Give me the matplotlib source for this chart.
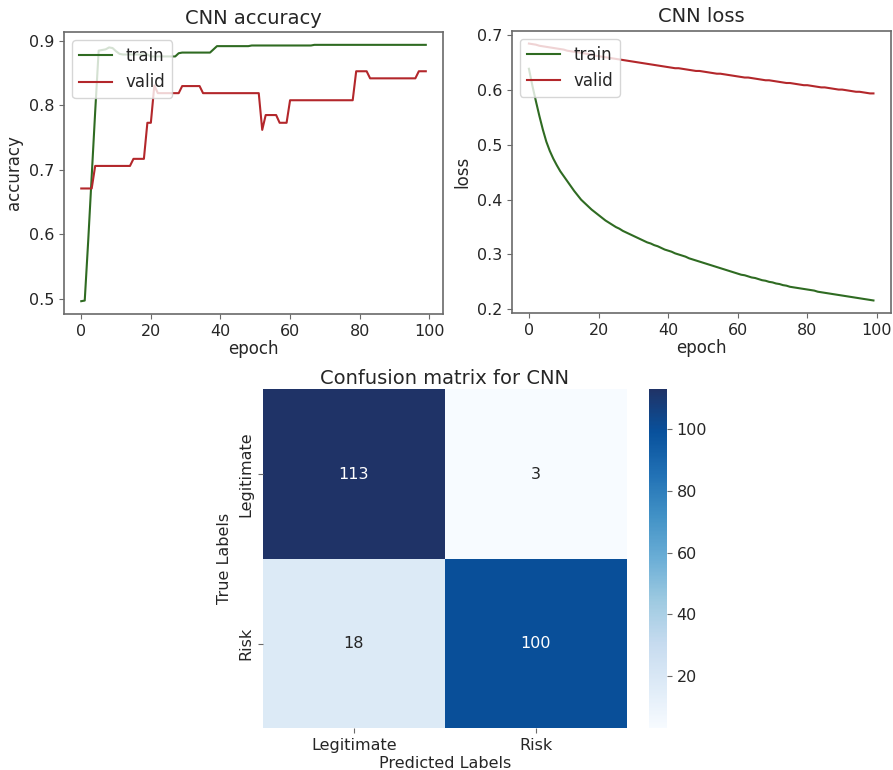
import matplotlib
matplotlib.use("Agg")
import matplotlib.pyplot as plt
from matplotlib.colors import LinearSegmentedColormap
import numpy as np
import seaborn as sns

# training history of the CNN (one value per epoch)
train_acc = [
    0.496, 0.497, 0.590, 0.690, 0.790, 0.885, 0.886, 0.887, 0.890, 0.889,
    0.884, 0.880, 0.879, 0.879, 0.879, 0.879, 0.879, 0.879, 0.879, 0.879,
    0.876, 0.876, 0.876, 0.876, 0.876, 0.876, 0.876, 0.876, 0.881, 0.882,
    0.882, 0.882, 0.882, 0.882, 0.882, 0.882, 0.882, 0.882, 0.887, 0.892,
    0.892, 0.892, 0.892, 0.892, 0.892, 0.892, 0.892, 0.892, 0.892, 0.893,
    0.893, 0.893, 0.893, 0.893, 0.893, 0.893, 0.893, 0.893, 0.893, 0.893,
    0.893, 0.893, 0.893, 0.893, 0.893, 0.893, 0.893, 0.894, 0.894, 0.894,
    0.894, 0.894, 0.894, 0.894, 0.894, 0.894, 0.894, 0.894, 0.894, 0.894,
    0.894, 0.894, 0.894, 0.894, 0.894, 0.894, 0.894, 0.894, 0.894, 0.894,
    0.894, 0.894, 0.894, 0.894, 0.894, 0.894, 0.894, 0.894, 0.894, 0.894,
]
valid_acc = [
    0.671, 0.671, 0.671, 0.671, 0.706, 0.706, 0.706, 0.706, 0.706, 0.706,
    0.706, 0.706, 0.706, 0.706, 0.706, 0.717, 0.717, 0.717, 0.717, 0.773,
    0.773, 0.831, 0.819, 0.819, 0.819, 0.819, 0.819, 0.819, 0.819, 0.830,
    0.830, 0.830, 0.830, 0.830, 0.830, 0.819, 0.819, 0.819, 0.819, 0.819,
    0.819, 0.819, 0.819, 0.819, 0.819, 0.819, 0.819, 0.819, 0.819, 0.819,
    0.819, 0.819, 0.762, 0.785, 0.785, 0.785, 0.785, 0.773, 0.773, 0.773,
    0.808, 0.808, 0.808, 0.808, 0.808, 0.808, 0.808, 0.808, 0.808, 0.808,
    0.808, 0.808, 0.808, 0.808, 0.808, 0.808, 0.808, 0.808, 0.808, 0.853,
    0.853, 0.853, 0.853, 0.842, 0.842, 0.842, 0.842, 0.842, 0.842, 0.842,
    0.842, 0.842, 0.842, 0.842, 0.842, 0.842, 0.842, 0.853, 0.853, 0.853,
]
train_loss = [
    0.639, 0.608, 0.580, 0.553, 0.528, 0.506, 0.489, 0.475, 0.463, 0.452,
    0.443, 0.434, 0.425, 0.416, 0.408, 0.400, 0.394, 0.388, 0.382, 0.377,
    0.372, 0.367, 0.362, 0.358, 0.354, 0.350, 0.347, 0.343, 0.340, 0.337,
    0.334, 0.331, 0.328, 0.325, 0.322, 0.320, 0.317, 0.315, 0.312, 0.309,
    0.307, 0.305, 0.302, 0.300, 0.298, 0.296, 0.293, 0.291, 0.289, 0.287,
    0.285, 0.283, 0.281, 0.279, 0.277, 0.275, 0.273, 0.271, 0.269, 0.267,
    0.265, 0.263, 0.262, 0.260, 0.258, 0.257, 0.255, 0.253, 0.252, 0.250,
    0.249, 0.247, 0.246, 0.244, 0.243, 0.241, 0.240, 0.239, 0.238, 0.237,
    0.236, 0.235, 0.234, 0.232, 0.231, 0.230, 0.229, 0.228, 0.227, 0.226,
    0.225, 0.224, 0.223, 0.222, 0.221, 0.220, 0.219, 0.218, 0.217, 0.216,
]
valid_loss = [
    0.685, 0.684, 0.683, 0.681, 0.680, 0.679, 0.678, 0.677, 0.676, 0.675,
    0.674, 0.672, 0.671, 0.670, 0.669, 0.668, 0.667, 0.666, 0.665, 0.663,
    0.662, 0.661, 0.660, 0.659, 0.658, 0.657, 0.656, 0.655, 0.654, 0.653,
    0.652, 0.651, 0.650, 0.649, 0.648, 0.647, 0.646, 0.645, 0.644, 0.643,
    0.642, 0.641, 0.640, 0.640, 0.639, 0.638, 0.637, 0.636, 0.635, 0.635,
    0.634, 0.633, 0.632, 0.631, 0.630, 0.630, 0.629, 0.628, 0.627, 0.626,
    0.625, 0.624, 0.623, 0.623, 0.622, 0.621, 0.620, 0.619, 0.618, 0.618,
    0.617, 0.616, 0.615, 0.614, 0.613, 0.613, 0.612, 0.611, 0.610, 0.609,
    0.609, 0.608, 0.607, 0.606, 0.605, 0.605, 0.604, 0.603, 0.602, 0.601,
    0.601, 0.600, 0.599, 0.598, 0.597, 0.597, 0.596, 0.595, 0.594, 0.594,
]

# test-set confusion matrix
class_names = ["Legitimate", "Risk"]
conf_mat = [[113, 3],
            [18, 100]]

train_color = "#2f6b22"
valid_color = "#b3272b"
text_color = "#262626"
frame_color = "#6a6a6a"

# Blues, with a slightly greyer navy at the top end
blues = LinearSegmentedColormap.from_list("blues_navy", [
    "#f7fbff", "#deebf7", "#c6dbef", "#9ecae1", "#6baed6",
    "#4292c6", "#2171b5", "#08519c", "#1f3367"])

plt.rcParams["font.family"] = "DejaVu Sans"
plt.rcParams["text.color"] = text_color
plt.rcParams["axes.labelcolor"] = text_color
plt.rcParams["xtick.color"] = frame_color
plt.rcParams["ytick.color"] = frame_color
plt.rcParams["xtick.labelcolor"] = text_color
plt.rcParams["ytick.labelcolor"] = text_color

fig = plt.figure(figsize=(8.93, 7.70), dpi=100)


def history_plot(rect, train, valid, title, ylabel):
    ax = fig.add_axes(rect)
    epochs = np.arange(len(train))
    ax.plot(epochs, train, color=train_color, lw=1.5, label="train")
    ax.plot(epochs, valid, color=valid_color, lw=1.5, label="valid")
    ax.set_title(title, fontsize=14)
    ax.set_xlabel("epoch", fontsize=12, labelpad=1)
    ax.set_ylabel(ylabel, fontsize=12)
    ax.tick_params(labelsize=11.5)
    for sp in ax.spines.values():
        sp.set_color(frame_color)
        sp.set_linewidth(1.2)
    ax.legend(loc="upper left", fontsize=12)
    return ax


ax_acc = history_plot([0.0717, 0.5922, 0.4244, 0.3662], train_acc, valid_acc,
                      "CNN accuracy", "accuracy")
ax_acc.set_xticks([0, 20, 40, 60, 80, 100])

ax_loss = history_plot([0.573, 0.5931, 0.4244, 0.367], train_loss, valid_loss,
                       "CNN loss", "loss")
ax_loss.set_xticks([0, 20, 40, 60, 80, 100])

# confusion matrix heatmap with its own colorbar axes
ax_cm = fig.add_axes([0.2942, 0.0542, 0.4076, 0.4402])
cax = fig.add_axes([0.7271, 0.0542, 0.0195, 0.4402])
sns.heatmap(np.array(conf_mat), annot=True, fmt="d", cmap=blues,
            xticklabels=class_names, yticklabels=class_names,
            annot_kws={"fontsize": 11.5}, ax=ax_cm, cbar_ax=cax)
ax_cm.set_title("Confusion matrix for CNN", fontsize=14, pad=4)
ax_cm.set_xlabel("Predicted Labels", fontsize=11.5, labelpad=2)
ax_cm.set_ylabel("True Labels", fontsize=11.5)
ax_cm.tick_params(labelsize=11.5)
plt.setp(ax_cm.get_yticklabels(), rotation=90, va="center")
cax.tick_params(labelsize=11.5)
cax.set_yticks([20, 40, 60, 80, 100])

fig.savefig("out.png", dpi=100)
